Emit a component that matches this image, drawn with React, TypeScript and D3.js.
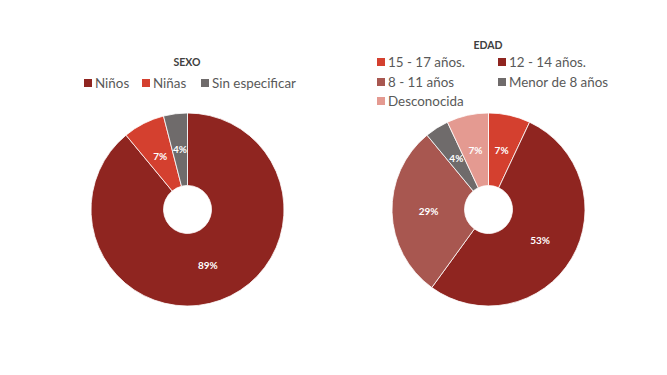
import React from "react";
import * as d3 from "d3";

const sexoLabels = ["Niños", "Niñas", "Sin especificar"];
const sexoValues = [89, 7, 4];
const sexoColors = ["#8F2520", "#D4402F", "#6F6B6B"];

const edadLabels = ["15 - 17 años.", "12 - 14 años.", "8 - 11 años", "Menor de 8 años", "Desconocida"];
const edadValues = [7, 53, 29, 4, 7];
const edadColors = ["#D4402F", "#8F2520", "#A85750", "#6F6B6B", "#E49A91"];

const FONT = "Lato, 'Open Sans', sans-serif";

function Donut({ cx, cy, values, colors }: { cx: number; cy: number; values: number[]; colors: string[] }) {
  const outer = 96.5;
  const inner = 24;
  const pie = d3.pie<number>().sort(null).value((d) => d);
  const arcs = pie(values);
  const arc = d3.arc<d3.PieArcDatum<number>>().innerRadius(inner).outerRadius(outer);
  const labelArc = d3.arc<d3.PieArcDatum<number>>().innerRadius(60).outerRadius(60);
  return (
    <g transform={`translate(${cx},${cy})`}>
      {arcs.map((a, i) => (
        <path key={i} d={arc(a) || ""} fill={colors[i]} stroke="#ffffff" strokeWidth={0.8} />
      ))}
      {arcs.map((a, i) => {
        const [x, y] = labelArc.centroid(a);
        return (
          <text key={"t" + i} x={x} y={y} dy="0.35em" textAnchor="middle" fill="#ffffff"
            fontSize={10} fontWeight={700} fontFamily={FONT}>
            {`${a.data}%`}
          </text>
        );
      })}
    </g>
  );
}

function LegendItem({ x, y, color, label }: { x: number; y: number; color: string; label: string }) {
  return (
    <g>
      <rect x={x} y={y - 4} width={8} height={8} fill={color} />
      <text x={x + 11} y={y} dy="0.36em" fontSize={13.4} fontFamily={FONT} fill="#595959">{label}</text>
    </g>
  );
}

export default function App() {
  const sexoX = [84, 142, 201];
  const edadPos = [[377, 62], [498, 62], [377, 82], [498, 82], [377, 101]];
  return (
    <svg width={667} height={375} style={{ position: "absolute", left: 0, top: 0, background: "#fff" }}>
      <text x={187} y={62} dy="0.35em" textAnchor="middle" fontSize={10.5} fontWeight={700} fontFamily={FONT} fill="#404040">SEXO</text>
      {sexoLabels.map((l, i) => (
        <LegendItem key={l} x={sexoX[i]} y={83} color={sexoColors[i]} label={l} />
      ))}
      <text x={488} y={45} dy="0.35em" textAnchor="middle" fontSize={10.5} fontWeight={700} fontFamily={FONT} fill="#404040">EDAD</text>
      {edadLabels.map((l, i) => (
        <LegendItem key={l} x={edadPos[i][0]} y={edadPos[i][1]} color={edadColors[i]} label={l} />
      ))}
      <Donut cx={187.5} cy={209.5} values={sexoValues} colors={sexoColors} />
      <Donut cx={488.5} cy={209.5} values={edadValues} colors={edadColors} />
    </svg>
  );
}
